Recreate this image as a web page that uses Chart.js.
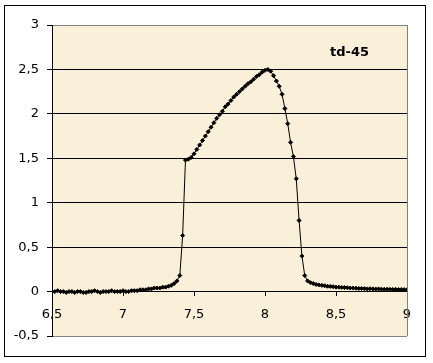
<!DOCTYPE html>
<html>
<head>
<meta charset="utf-8">
<script src="https://cdn.jsdelivr.net/npm/chart.js@4"></script>
<style>
  body { margin: 0; background: #fff; }
</style>
</head>
<body>
<canvas id="myChart" width="433" height="363"></canvas>
<script>
const ctx = document.getElementById("myChart");

// measured points (x in steps of 0.02)
const xValues = [
  6.50, 6.52, 6.54, 6.56, 6.58, 6.60, 6.62, 6.64, 6.66, 6.68,
  6.70, 6.72, 6.74, 6.76, 6.78, 6.80, 6.82, 6.84, 6.86, 6.88,
  6.90, 6.92, 6.94, 6.96, 6.98, 7.00, 7.02, 7.04, 7.06, 7.08,
  7.10, 7.12, 7.14, 7.16, 7.18, 7.20, 7.22, 7.24, 7.26, 7.28,
  7.30, 7.32, 7.34, 7.36, 7.38, 7.40, 7.42, 7.44, 7.46, 7.48,
  7.50, 7.52, 7.54, 7.56, 7.58, 7.60, 7.62, 7.64, 7.66, 7.68,
  7.70, 7.72, 7.74, 7.76, 7.78, 7.80, 7.82, 7.84, 7.86, 7.88,
  7.90, 7.92, 7.94, 7.96, 7.98, 8.00, 8.02, 8.04, 8.06, 8.08,
  8.10, 8.12, 8.14, 8.16, 8.18, 8.20, 8.22, 8.24, 8.26, 8.28,
  8.30, 8.32, 8.34, 8.36, 8.38, 8.40, 8.42, 8.44, 8.46, 8.48,
  8.50, 8.52, 8.54, 8.56, 8.58, 8.60, 8.62, 8.64, 8.66, 8.68,
  8.70, 8.72, 8.74, 8.76, 8.78, 8.80, 8.82, 8.84, 8.86, 8.88,
  8.90, 8.92, 8.94, 8.96, 8.98, 9.00
];
const yValues = [
  0.00, 0.00, 0.01, 0.00, 0.00, -0.01, 0.00, 0.00, -0.01, 0.00,
  0.00, -0.01, -0.01, 0.00, 0.00, 0.01, 0.00, -0.01, 0.00, 0.00,
  0.00, 0.01, 0.00, 0.00, 0.00, 0.01, 0.00, 0.00, 0.01, 0.01,
  0.01, 0.02, 0.02, 0.02, 0.03, 0.03, 0.04, 0.04, 0.04, 0.05,
  0.05, 0.06, 0.07, 0.09, 0.12, 0.18, 0.63, 1.48, 1.49, 1.51,
  1.55, 1.60, 1.65, 1.70, 1.75, 1.80, 1.85, 1.90, 1.95, 1.99,
  2.03, 2.08, 2.11, 2.15, 2.19, 2.22, 2.25, 2.28, 2.31, 2.34,
  2.36, 2.39, 2.42, 2.44, 2.47, 2.49, 2.50, 2.48, 2.43, 2.37,
  2.31, 2.22, 2.06, 1.89, 1.68, 1.52, 1.27, 0.80, 0.40, 0.18,
  0.12, 0.10, 0.09, 0.08, 0.075, 0.07, 0.065, 0.06, 0.058, 0.055,
  0.05, 0.05, 0.047, 0.045, 0.043, 0.04, 0.04, 0.038, 0.035, 0.035,
  0.033, 0.03, 0.032, 0.03, 0.028, 0.03, 0.027, 0.025, 0.027, 0.025,
  0.024, 0.025, 0.022, 0.023, 0.022, 0.02
];
const seriesLabel = "td-45";

const points = xValues.map((x, i) => ({ x: x, y: yValues[i] }));

// comma decimals like the original
function commaLabel(value) {
  return String(Math.round(value * 10) / 10).replace(".", ",");
}

// plot background, frame and the series label
const framePlugin = {
  id: "frame",
  beforeDraw(chart) {
    const c = chart.ctx;
    const a = chart.chartArea;
    c.save();
    c.fillStyle = "#FAEFD8";
    c.fillRect(a.left, a.top, a.right - a.left, a.bottom - a.top);
    c.restore();
  },
  beforeDatasetsDraw(chart) {
    const c = chart.ctx;
    const a = chart.chartArea;
    c.save();
    c.strokeStyle = "#808080";
    c.lineWidth = 1;
    c.beginPath();
    c.moveTo(Math.round(a.right) + 0.5, a.top);
    c.lineTo(Math.round(a.right) + 0.5, a.bottom);
    c.stroke();
    c.restore();
  },
  afterDraw(chart) {
    const c = chart.ctx;
    c.save();
    c.strokeStyle = "#000";
    c.lineWidth = 1;
    c.strokeRect(4.5, 5.5, 421, 351);
    c.fillStyle = "#000";
    c.font = "bold 13px 'DejaVu Sans'";
    c.textBaseline = "alphabetic";
    c.fillText(seriesLabel, 330, 56);
    c.restore();
  }
};

new Chart(ctx, {
  type: "line",
  data: {
    datasets: [
      {
        label: seriesLabel,
        data: points,
        borderColor: "#000",
        borderWidth: 1,
        backgroundColor: "#000",
        pointStyle: "rectRot",
        pointRadius: 2,
        pointBorderWidth: 1,
        pointBorderColor: "#000",
        pointBackgroundColor: "#000",
        tension: 0,
        fill: false
      }
    ]
  },
  options: {
    responsive: false,
    animation: false,
    layout: {
      padding: { left: 0, top: 25, right: 26, bottom: 27 }
    },
    plugins: {
      legend: { display: false },
      tooltip: { enabled: false }
    },
    scales: {
      x: {
        type: "linear",
        position: { y: 0 },
        min: 6.5,
        max: 9,
        border: { color: "#000", width: 1 },
        grid: {
          drawOnChartArea: false,
          drawTicks: true,
          tickLength: 4,
          tickColor: "#000"
        },
        ticks: {
          stepSize: 0.5,
          padding: 11,
          color: "#000",
          font: { family: "'DejaVu Sans'", size: 13 },
          maxRotation: 0,
          callback: (v) => commaLabel(v)
        }
      },
      y: {
        min: -0.5,
        max: 3,
        afterFit(scale) {
          scale.width = 52;
        },
        border: { color: "#000", width: 1 },
        grid: {
          color: (c) => (c.tick && (c.tick.value === 3 || c.tick.value === -0.5) ? "#808080" : "#000"),
          tickLength: 5,
          tickColor: "#000"
        },
        ticks: {
          stepSize: 0.5,
          padding: 8,
          color: "#000",
          font: { family: "'DejaVu Sans'", size: 13 },
          callback: (v) => commaLabel(v)
        }
      }
    }
  },
  plugins: [framePlugin]
});
</script>
</body>
</html>
